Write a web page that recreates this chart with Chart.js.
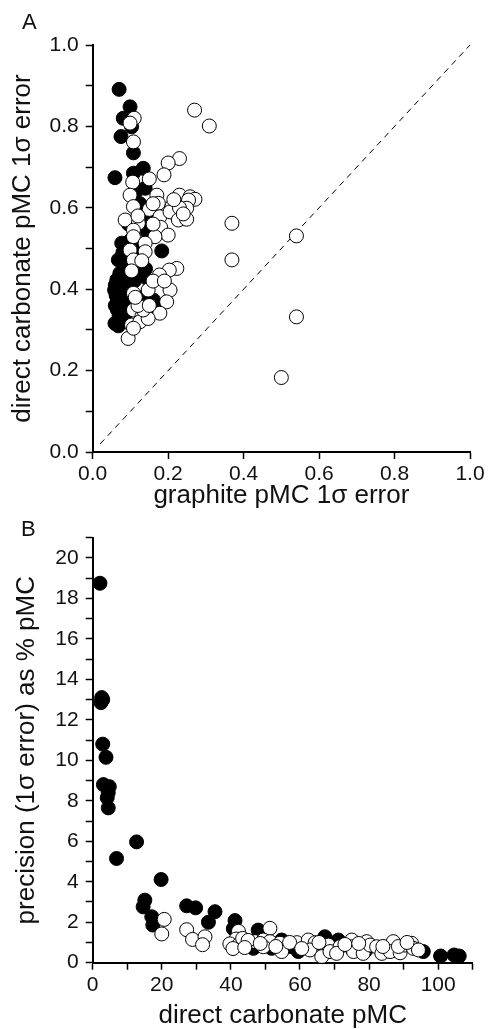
<!DOCTYPE html>
<html><head><meta charset="utf-8">
<script src="https://cdn.jsdelivr.net/npm/chart.js@4.4.1/dist/chart.umd.min.js"></script>
<style>
html,body{margin:0;padding:0;background:#fff;}
body{width:488px;height:1029px;position:relative;overflow:hidden;font-family:"Liberation Sans",Arial,sans-serif;}
canvas{position:absolute;left:0;}
#ca{top:0;}
#cb{top:515px;}
.lab{position:absolute;font-size:22px;line-height:25px;color:#111;}
</style></head><body>
<canvas id="ca" width="488" height="515"></canvas>
<canvas id="cb" width="488" height="514"></canvas>
<div class="lab" style="left:22px;top:9px">A</div>
<div class="lab" style="left:21px;top:516px">B</div>
<script>
// ---------- Panel A data: [graphite pMC 1σ error, direct carbonate pMC 1σ error]
const aFilled = [
[0.070,0.891],[0.099,0.848],[0.081,0.820],[0.103,0.799],[0.075,0.775],[0.108,0.735],[0.134,0.697],[0.108,0.685],
[0.059,0.674],[0.139,0.648],[0.115,0.640],[0.125,0.610],[0.139,0.563],[0.130,0.580],[0.120,0.600],[0.145,0.540],
[0.183,0.494],[0.077,0.513],[0.068,0.472],[0.080,0.490],[0.072,0.439],[0.064,0.423],[0.060,0.410],[0.058,0.398],
[0.062,0.385],[0.066,0.373],[0.060,0.360],[0.065,0.350],[0.070,0.335],[0.059,0.316],[0.081,0.320],[0.068,0.310],
[0.075,0.400],[0.085,0.420],[0.090,0.380],[0.080,0.360],[0.095,0.410],[0.100,0.440],[0.110,0.420],[0.120,0.430],
[0.134,0.381],[0.161,0.373],[0.165,0.349],[0.170,0.353],[0.150,0.420],[0.140,0.450],[0.115,0.470],[0.125,0.500],
[0.100,0.520],[0.095,0.560],[0.105,0.470],[0.088,0.340],[0.075,0.330],[0.092,0.455],[0.150,0.600],[0.160,0.570]
];
const aOpen = [
[0.110,0.820],[0.099,0.808],[0.108,0.762],[0.270,0.840],[0.309,0.801],[0.230,0.721],[0.200,0.710],[0.189,0.681],
[0.150,0.671],[0.106,0.663],[0.099,0.631],[0.170,0.631],[0.230,0.631],[0.258,0.627],[0.271,0.621],[0.254,0.619],
[0.108,0.603],[0.150,0.596],[0.174,0.611],[0.210,0.603],[0.249,0.599],[0.086,0.570],[0.178,0.578],[0.205,0.590],
[0.227,0.570],[0.249,0.572],[0.121,0.562],[0.180,0.552],[0.108,0.545],[0.200,0.533],[0.165,0.529],[0.108,0.529],
[0.139,0.513],[0.139,0.492],[0.099,0.496],[0.108,0.472],[0.369,0.562],[0.369,0.472],[0.223,0.451],[0.203,0.447],
[0.177,0.435],[0.103,0.445],[0.108,0.390],[0.147,0.398],[0.205,0.398],[0.196,0.369],[0.178,0.341],[0.108,0.349],
[0.130,0.332],[0.103,0.312],[0.094,0.279],[0.125,0.320],[0.147,0.328],[0.134,0.349],[0.540,0.531],[0.540,0.332],
[0.500,0.183],[0.160,0.560],[0.230,0.600],[0.130,0.470],[0.160,0.420],[0.120,0.360],[0.150,0.360],[0.190,0.420],
[0.120,0.580],[0.215,0.620],[0.240,0.585],[0.160,0.610],[0.113,0.380],[0.108,0.304]
];
const aDiagonal = [0.02, 1.0];          // 1:1 line from (0.02,0.02) to (1,1)
const aXTicks = [0, 0.2, 0.4, 0.6, 0.8, 1.0];
const aYRange = [0, 1.0];

// ---------- Panel B data: [direct carbonate pMC, precision (1σ error) as % pMC]
const bFilled = [
[2.1,18.75],[2.6,13.1],[2.4,12.85],[2.9,13.0],[2.9,10.8],[3.85,10.15],[3.1,8.8],[4.8,8.7],[4.5,8.4],[4.2,8.15],
[4.5,7.65],[6.9,5.15],[12.7,5.97],[19.8,4.11],[15.1,3.09],[14.6,2.76],[17.1,2.27],[17.4,1.86],[27.2,2.81],[29.8,2.71],
[35.4,2.52],[33.5,2.0],[41.2,2.08],[40.7,1.68],[47.9,1.61],[46.5,0.71],[51.8,0.71],[54.7,1.12],[59.5,0.55],[67.2,1.28],
[71.1,1.12],[70.6,1.04],[85.1,0.63],[95.7,0.55],[100.7,0.33],[104.6,0.38],[106.1,0.33],[48.2,1.4],[44,0.9],[63,0.9],
[57,0.8],[75,0.7],[88,0.6],[79,0.6]
];
const bOpen = [
[20.7,2.14],[20.0,1.42],[27.2,1.63],[28.9,1.15],[32.5,1.28],[31.8,0.89],[42.2,1.55],[41.5,1.17],[39.7,0.93],[42.2,0.87],
[40.6,0.7],[43.4,1.2],[51.3,1.7],[47,1.04],[49.4,1.12],[51.3,1.04],[49.4,0.79],[54.2,0.96],[54.7,0.55],[59.1,0.99],
[62.4,1.12],[64.4,0.99],[62.9,0.63],[66.3,0.30],[68.2,0.87],[68.7,0.55],[71.6,0.79],[70.6,0.46],[75,1.12],[75,0.79],
[75.5,0.55],[78.3,0.46],[79.3,1.04],[80.3,0.87],[82.2,0.79],[83.7,0.46],[87,1.04],[86.1,0.55],[89,0.49],[90.4,0.87],
[92.3,0.96],[92.8,0.71],[94.3,0.63],[45,1.1],[53,0.8],[57,1.0],[60.5,0.7],[65.5,1.0],[73,0.9],[77,0.95],
[84,0.8],[88.5,0.8],[91,1.0],[48.5,0.95],[44,0.75]
];
const bXRange = [0, 110];
const bYRange = [0, 21];

const toXY = arr => arr.map(p => ({x: p[0], y: p[1]}));
const FONT = '"Liberation Sans", Arial, sans-serif';
const TXT = '#111';
const tickFont = {family: FONT, size: 21};
const titleFont = {family: FONT, size: 26, lineHeight: 1};

function axisStyle(extra) {
  return Object.assign({
    border: {display: true, color: '#000', width: 2},
    grid: {drawOnChartArea: false, drawTicks: true, tickLength: 7, tickWidth: 1.5, tickColor: '#000'},
  }, extra);
}
const ptFilled = {pointRadius: 7, pointHoverRadius: 7, pointBackgroundColor: '#000', pointBorderColor: '#000', pointBorderWidth: 1, showLine: false};
const ptOpen = {pointRadius: 7, pointHoverRadius: 7, pointBackgroundColor: '#fff', pointBorderColor: '#000', pointBorderWidth: 1, showLine: false};

new Chart(document.getElementById('ca'), {
  type: 'scatter',
  data: {datasets: [
    Object.assign({label: 'open', data: toXY(aOpen)}, ptOpen),
    Object.assign({label: 'filled', data: toXY(aFilled)}, ptFilled),
    {type: 'line', label: '1:1', data: aDiagonal.map(v => ({x: v, y: v})), borderColor: '#000', borderWidth: 1,
     borderDash: [6, 5], pointRadius: 0, fill: false, showLine: true}
  ]},
  options: {
    responsive: false, animation: false, events: [],
    layout: {padding: {top: 45, right: 18, left: 0, bottom: 0}},
    plugins: {legend: {display: false}, tooltip: {enabled: false}},
    scales: {
      x: axisStyle({
        type: 'linear', min: aXTicks[0], max: aXTicks[aXTicks.length - 1],
        afterBuildTicks: s => { s.ticks = aXTicks.map(v => ({value: v})); },
        afterFit: s => { s.height = 63; },
        ticks: {font: tickFont, color: TXT, padding: 3, autoSkip: false, maxRotation: 0, callback: v => v.toFixed(1)},
        title: {display: true, text: 'graphite pMC 1\u03c3 error', font: titleFont, color: TXT, padding: {top: 0, bottom: 6}}
      }),
      y: axisStyle({
        type: 'linear', min: aYRange[0], max: aYRange[1],
        afterFit: s => { s.width = 92.7; },
        ticks: {font: tickFont, color: TXT, padding: 7, stepSize: 0.1, autoSkip: false,
                callback: v => (Math.round(v * 10) % 2 === 0 ? v.toFixed(1) : '')},
        title: {display: true, text: 'direct carbonate pMC 1\u03c3 error', font: titleFont, color: TXT, padding: {top: 10, bottom: 0}}
      })
    }
  }
});

new Chart(document.getElementById('cb'), {
  type: 'scatter',
  data: {datasets: [
    Object.assign({label: 'open', data: toXY(bOpen)}, ptOpen),
    Object.assign({label: 'filled', data: toXY(bFilled)}, ptFilled)
  ]},
  options: {
    responsive: false, animation: false, events: [],
    layout: {padding: {top: 22.7, right: 15.3, left: 0, bottom: 0}},
    plugins: {legend: {display: false}, tooltip: {enabled: false}},
    scales: {
      x: axisStyle({
        type: 'linear', min: bXRange[0], max: bXRange[1],
        afterFit: s => { s.height = 66.3; },
        ticks: {font: tickFont, color: TXT, padding: 3, stepSize: 10, autoSkip: false, maxRotation: 0,
                callback: v => (Math.round(v) % 20 === 0 ? String(v) : '')},
        title: {display: true, text: 'direct carbonate pMC', font: titleFont, color: TXT, padding: {top: 0, bottom: 0}}
      }),
      y: axisStyle({
        type: 'linear', min: bYRange[0], max: bYRange[1],
        afterFit: s => { s.width = 92.7; },
        ticks: {font: tickFont, color: TXT, padding: 7, stepSize: 1, autoSkip: false,
                callback: v => (Math.round(v) % 2 === 0 ? String(v) : '')},
        title: {display: true, text: 'precision (1\u03c3 error) as % pMC', font: titleFont, color: TXT,
                padding: {top: 14, bottom: 0}}
      })
    }
  }
});
</script>
</body></html>
